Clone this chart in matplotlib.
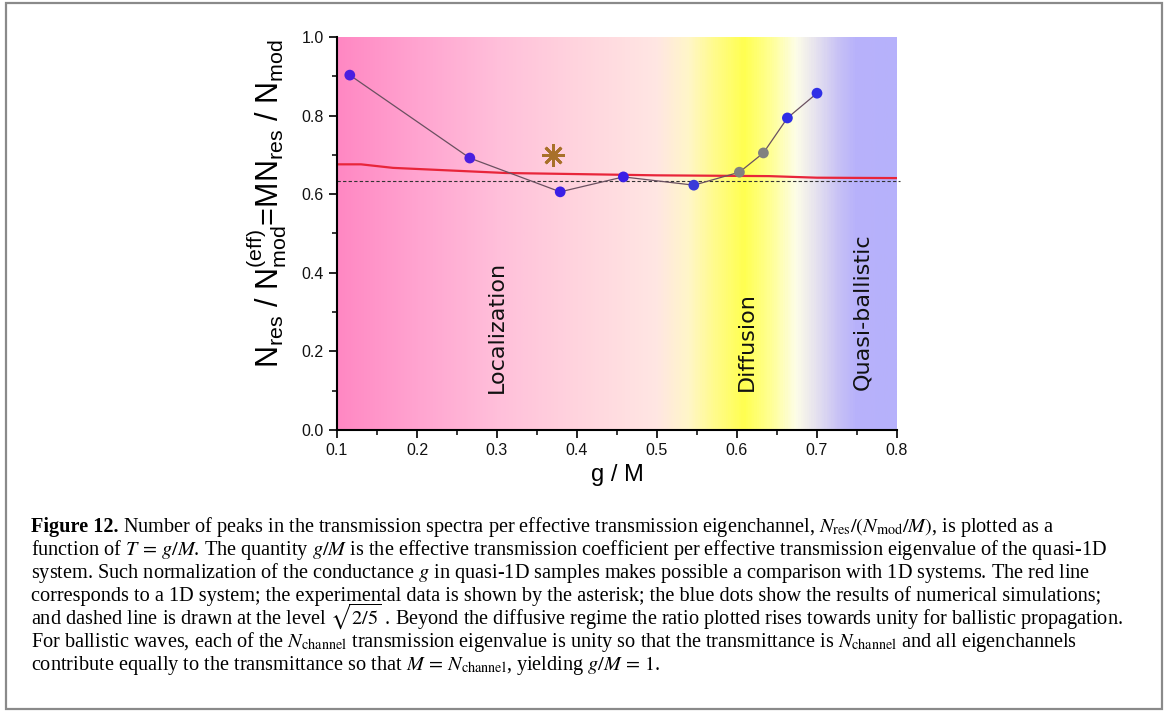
import numpy as np
import matplotlib
matplotlib.use("Agg")
import matplotlib.pyplot as plt
from matplotlib.colors import LinearSegmentedColormap
from matplotlib.patches import Rectangle
from matplotlib.ticker import MultipleLocator

# ---- data ----
sim_x = [0.116, 0.266, 0.379, 0.458, 0.546, 0.603, 0.633, 0.663, 0.700]
sim_y = [0.903, 0.692, 0.606, 0.644, 0.623, 0.656, 0.705, 0.794, 0.857]
sim_colors = ['#4a1fe0', '#4a1fe0', '#3a1fe6', '#3a1fe6', '#3a3ad8',
              '#808080', '#808080', '#2f2fe6', '#2f2fe6']

red_x = [0.10, 0.13, 0.17, 0.31, 0.50, 0.64, 0.70, 0.80]
red_y = [0.676, 0.676, 0.667, 0.654, 0.648, 0.646, 0.642, 0.641]

exp_x = [0.37]
exp_y = [0.70]

dashed_level = np.sqrt(2 / 5)

# background gradient (g/M position -> colour)
bg_pos = [0.10, 0.20, 0.30, 0.40, 0.50, 0.54, 0.57, 0.61, 0.645, 0.675, 0.70, 0.73, 0.75, 0.80]
bg_col = ['#ff88c3', '#ffa4d0', '#ffbfda', '#ffd4de', '#ffe6e3', '#fff6c8', '#fffb90',
          '#ffff50', '#ffff98', '#fdfde8', '#e6e2ef', '#c6c0f6', '#b8b2fb', '#b6b1fb']

regions = ['Localization', 'Diffusion', 'Quasi-ballistic']
region_x = [0.300, 0.6125, 0.756]
region_y = [0.262, 0.224, 0.300]

caption = [
    r'Number of peaks in the transmission spectra per effective transmission eigenchannel, $N_{\rm res}/(N_{\rm mod}/M)$, is plotted as a',
    r'function of $T\,=\,g/M$. The quantity $g/M$ is the effective transmission coefficient per effective transmission eigenvalue of the quasi-1D',
    r'system. Such normalization of the conductance $g$ in quasi-1D samples makes possible a comparison with 1D systems. The red line',
    r'corresponds to a 1D system; the experimental data is shown by the asterisk; the blue dots show the results of numerical simulations;',
    r'and dashed line is drawn at the level $\sqrt{2/5}$ . Beyond the diffusive regime the ratio plotted rises towards unity for ballistic propagation.',
    r'For ballistic waves, each of the $N_{\rm channel}$ transmission eigenvalue is unity so that the transmittance is $N_{\rm channel}$ and all eigenchannels',
    r'contribute equally to the transmittance so that $M\,=\,N_{\rm channel}$, yielding $g/M\,=\,1$.',
]

plt.rcParams['font.family'] = ['Liberation Sans', 'DejaVu Sans']
plt.rcParams['mathtext.fontset'] = 'custom'
plt.rcParams['mathtext.rm'] = 'Liberation Sans'
plt.rcParams['mathtext.it'] = 'Liberation Sans:italic'

W, H = 1165, 711
fig = plt.figure(figsize=(W / 100, H / 100), dpi=100)
ax = fig.add_axes([337 / W, 1 - 430 / H, 560 / W, 393 / H])

# gradient background
stops = np.clip((np.array(bg_pos) - 0.1) / 0.7, 0, 1)
stops[0], stops[-1] = 0.0, 1.0
cmap = LinearSegmentedColormap.from_list('regimes', list(zip(stops, bg_col)))
ax.imshow(np.linspace(0, 1, 600).reshape(1, -1), cmap=cmap, aspect='auto',
          extent=[0.1, 0.8, 0, 1], zorder=0)

ax.axhline(dashed_level, color='#333333', lw=0.8, ls=(0, (3, 2)), zorder=2, clip_on=False,
           xmax=1.005)
ax.plot(red_x, red_y, color='#e8253a', lw=1.6, zorder=3)
ax.plot(sim_x, sim_y, color='#6a5060', lw=0.9, zorder=4)
ax.scatter(sim_x, sim_y, s=60, c=sim_colors, zorder=5, edgecolors='none')
ax.plot(exp_x, exp_y, marker=(8, 2, 0), ms=16, mew=2.0, color='#a8702a', ls='none', zorder=5)

for name, rx, ry in zip(regions, region_x, region_y):
    ax.text(rx, ry, name, rotation=90, ha='center', va='center', fontsize=16,
            family='DejaVu Sans', color='#111111', zorder=6)

ax.set_xlim(0.1, 0.8)
ax.set_ylim(0.0, 1.0)
ax.xaxis.set_major_locator(MultipleLocator(0.1))
ax.xaxis.set_minor_locator(MultipleLocator(0.05))
ax.yaxis.set_major_locator(MultipleLocator(0.2))
ax.yaxis.set_minor_locator(MultipleLocator(0.1))
ax.tick_params(which='major', direction='out', length=6, width=1.3, labelsize=11.5, colors='#111111')
ax.tick_params(which='minor', direction='out', length=3.5, width=1.1)
for s in ['top', 'right']:
    ax.spines[s].set_visible(False)
for s in ['left', 'bottom']:
    ax.spines[s].set_linewidth(1.5)
    ax.spines[s].set_zorder(7)

ax.set_xlabel('g / M', fontsize=17, labelpad=4)
ax.set_ylabel(r'N$_{\rm res}$ / N$^{\rm (eff)}_{\rm mod}$=MN$_{\rm res}$ / N$_{\rm mod}$',
              fontsize=22)
ax.yaxis.set_label_coords(-0.086, 0.575)

# caption
x0 = 31 / W
y0 = 532
fs = 14.6
cap_font = dict(family='Liberation Serif', fontsize=fs, math_fontfamily='stix')
t = fig.text(x0, 1 - y0 / H, 'Figure 12.', weight='bold', va='baseline', ha='left',
             family='Liberation Serif', fontsize=fs)
bb = t.get_window_extent(fig.canvas.get_renderer())
fig.text(bb.x1 / W, 1 - y0 / H, ' ' + caption[0], va='baseline', ha='left', **cap_font)
for i, line in enumerate(caption[1:], start=1):
    fig.text(x0, 1 - (y0 + 23 * i) / H, line, va='baseline', ha='left', **cap_font)

# frame around the whole figure
fig.add_artist(Rectangle((6 / W, 1 - 709 / H), 1156 / W, 706 / H, transform=fig.transFigure,
                         fill=False, ec='#8a8a8a', lw=1.6))

fig.savefig('out.png', dpi=100)
